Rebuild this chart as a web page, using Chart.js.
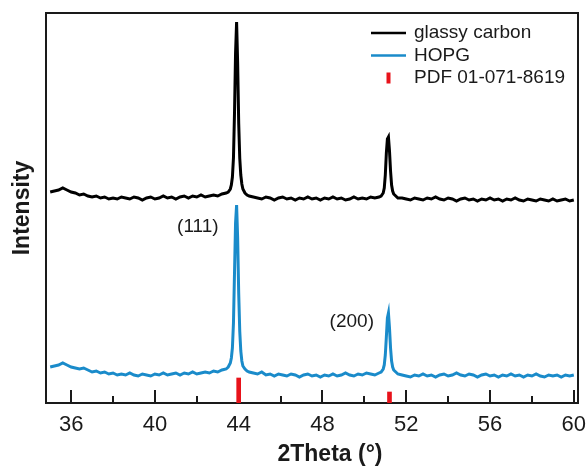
<!DOCTYPE html>
<html>
<head>
<meta charset="utf-8">
<script src="https://cdn.jsdelivr.net/npm/chart.js@4.4.1/dist/chart.umd.min.js"></script>
<style>
  html, body { margin: 0; padding: 0; background: #fff; }
</style>
</head>
<body>
<canvas id="xrdChart" width="586" height="466"></canvas>
<script>
// 2theta grid (deg) - coarse on the background, finer across the two peaks
const twoTheta = [
    35.0, 35.2, 35.4, 35.6, 35.8, 36.0, 36.2, 36.4, 36.6, 36.8, 37.0, 37.2, 37.4, 37.6, 37.8, 38.0, 38.2, 38.4, 38.6, 38.8, 39.0, 39.2, 39.4, 39.6, 39.8, 40.0, 40.2, 40.4, 40.6, 40.8, 41.0, 41.2, 41.4, 41.6, 41.8, 42.0, 42.2, 42.4, 42.6, 42.8, 43.0, 43.2, 43.4,
    43.5, 43.6, 43.65, 43.7, 43.75, 43.8, 43.85, 43.9, 43.95, 44.0, 44.05, 44.1, 44.15, 44.2, 44.3, 44.4, 44.5,
    44.7, 44.9, 45.1, 45.3, 45.5, 45.7, 45.9, 46.1, 46.3, 46.5, 46.7, 46.9, 47.1, 47.3, 47.5, 47.7, 47.9, 48.1, 48.3, 48.5, 48.7, 48.9, 49.1, 49.3, 49.5, 49.7, 49.9, 50.1, 50.3, 50.5, 50.7,
    50.8, 50.9, 50.95, 51.0, 51.05, 51.1, 51.15, 51.2, 51.25, 51.3, 51.35, 51.4, 51.5, 51.6,
    51.8, 52.0, 52.2, 52.4, 52.6, 52.8, 53.0, 53.2, 53.4, 53.6, 53.8, 54.0, 54.2, 54.4, 54.6, 54.8, 55.0, 55.2, 55.4, 55.6, 55.8, 56.0, 56.2, 56.4, 56.6, 56.8, 57.0, 57.2, 57.4, 57.6, 57.8, 58.0, 58.2, 58.4, 58.6, 58.8, 59.0, 59.2, 59.4, 59.6, 59.8, 60.0
];

// intensities (a.u., curves offset as in the figure)
const glassyCarbon = [
    211, 212, 213, 215, 213, 211, 210, 208, 209, 207, 206, 207, 205, 206, 204, 205, 204, 206, 205, 204, 206, 205, 203, 205, 206, 204, 205, 207, 205, 206, 204, 206, 207, 205, 207, 206, 208, 206, 207, 208, 207, 209, 210,
    211, 214, 218, 226, 245, 290, 350, 381, 340, 280, 245, 228, 219, 214, 210, 208, 207,
    206, 205, 204, 206, 205, 203, 205, 206, 204, 205, 203, 205, 204, 206, 204, 205, 203, 205, 204, 206, 204, 205, 203, 204, 206, 204, 205, 204, 206, 205, 206,
    207, 210, 215, 228, 250, 264, 266, 252, 232, 218, 212, 209, 207, 205,
    205, 204, 203, 205, 204, 203, 205, 204, 206, 204, 203, 205, 204, 202, 204, 205, 203, 204, 202, 204, 203, 205, 203, 204, 202, 204, 203, 205, 203, 202, 204, 203, 202, 204, 203, 202, 204, 202, 203, 204, 202, 203
];

const hopg = [
    36, 37, 38, 40, 38, 36, 35, 34, 35, 33, 31, 32, 30, 31, 29, 30, 28, 29, 28, 30, 28, 27, 29, 28, 27, 29, 28, 30, 28, 29, 30, 28, 30, 29, 31, 29, 30, 31, 30, 32, 31, 33, 34,
    36, 40, 45, 55, 80, 130, 180, 198, 165, 110, 72, 52, 42, 37, 34, 32, 31,
    30, 29, 31, 28, 29, 27, 29, 28, 27, 29, 28, 26, 28, 29, 27, 28, 26, 28, 27, 29, 27, 28, 30, 28, 27, 29, 28, 30, 29, 28, 30,
    31, 34, 38, 48, 66, 85, 90, 75, 55, 42, 36, 33, 31, 29,
    28, 27, 26, 28, 27, 29, 27, 28, 26, 28, 29, 27, 28, 30, 28, 27, 29, 28, 26, 28, 29, 27, 28, 26, 28, 27, 29, 27, 28, 26, 28, 27, 29, 27, 26, 28, 27, 28, 26, 28, 27, 28
];

// reference pattern PDF 01-071-8619
const pdfAngles = [44.0, 51.2];
const pdfIntensity = [25, 11];

const seriesNames = ['glassy carbon', 'HOPG', 'PDF 01-071-8619'];
const majorTicks = [36, 40, 44, 48, 52, 56, 60];
const minorTicks = [38, 42, 46, 50, 54, 58];
const peakLabels = ['(111)', '(200)'];

const FONT = '"Liberation Sans", Arial, sans-serif';
const INK = '#1a1a1a';

// frame + inward ticks go under the data, texts and legend on top
const decorPlugin = {
    id: 'decor',
    beforeDatasetsDraw(chart) {
        const { ctx, chartArea: a, scales: { x } } = chart;
        ctx.save();
        ctx.strokeStyle = INK;
        ctx.lineWidth = 2;
        ctx.strokeRect(a.left, a.top, a.right - a.left, a.bottom - a.top);

        ctx.beginPath();
        majorTicks.forEach(v => {
            const px = Math.round(x.getPixelForValue(v));
            ctx.moveTo(px, a.bottom);
            ctx.lineTo(px, a.bottom - 13);
        });
        minorTicks.forEach(v => {
            const px = Math.round(x.getPixelForValue(v));
            ctx.moveTo(px, a.bottom);
            ctx.lineTo(px, a.bottom - 7);
        });
        ctx.stroke();
        ctx.restore();
    },
    afterDatasetsDraw(chart, args, opts) {
        const { ctx, chartArea: a, scales: { x, y } } = chart;
        ctx.save();

        ctx.fillStyle = INK;
        ctx.textAlign = 'center';
        ctx.textBaseline = 'middle';
        ctx.font = '22px ' + FONT;
        majorTicks.forEach(v => ctx.fillText(String(v), x.getPixelForValue(v), a.bottom + 22));

        ctx.font = 'bold 23px ' + FONT;
        ctx.fillText('2Theta (°)', (a.left + a.right) / 2 + 18, a.bottom + 52);

        ctx.font = '19px ' + FONT;
        peakLabels.forEach((t, i) => {
            const [lx, ly] = opts.labelAt[i];
            ctx.fillText(t, x.getPixelForValue(lx), y.getPixelForValue(ly));
        });

        // legend in the top right corner of the plot
        const x0 = a.right - 207;
        ctx.textAlign = 'left';
        chart.data.datasets.forEach((ds, i) => {
            const cy = a.top + 20 + i * 22.5;
            if (ds.type === 'bar') {
                ctx.fillStyle = ds.backgroundColor;
                ctx.fillRect(x0 + 15.5, cy - 5.5, 4, 11);
            } else {
                ctx.strokeStyle = ds.borderColor;
                ctx.lineWidth = 2.5;
                ctx.beginPath();
                ctx.moveTo(x0, cy);
                ctx.lineTo(x0 + 35, cy);
                ctx.stroke();
            }
            ctx.fillStyle = INK;
            ctx.fillText(ds.label, x0 + 43, cy);
        });

        ctx.restore();
    }
};

const ctx = document.getElementById('xrdChart').getContext('2d');
const xrdChart = new Chart(ctx, {
    type: 'line',
    data: {
        datasets: [
            {
                label: seriesNames[0],
                data: twoTheta.map((t, i) => ({ x: t, y: glassyCarbon[i] })),
                borderColor: '#000000',
                borderWidth: 3,
                pointRadius: 0,
                tension: 0
            },
            {
                label: seriesNames[1],
                data: twoTheta.map((t, i) => ({ x: t, y: hopg[i] })),
                borderColor: '#1a8bca',
                borderWidth: 3,
                pointRadius: 0,
                tension: 0
            },
            {
                type: 'bar',
                label: seriesNames[2],
                data: pdfAngles.map((t, i) => ({ x: t, y: pdfIntensity[i] })),
                backgroundColor: '#e8121a',
                borderWidth: 0,
                barThickness: 4
            }
        ]
    },
    options: {
        responsive: false,
        animation: false,
        layout: { padding: { left: 9.2, top: 13, right: 8, bottom: 63 } },
        plugins: {
            legend: { display: false },
            tooltip: { enabled: false },
            decor: { labelAt: [[42.05, 176], [49.4, 81]] }
        },
        scales: {
            x: {
                type: 'linear',
                min: 34.8,
                max: 60.2,
                offset: false,
                grid: { display: false, drawTicks: false, offset: false },
                border: { display: false },
                ticks: { display: false }
            },
            y: {
                min: 0,
                max: 390,
                grid: { display: false, drawTicks: false },
                border: { display: false },
                ticks: { display: false },
                title: {
                    display: true,
                    text: 'Intensity',
                    color: INK,
                    font: { family: FONT, size: 23, weight: 'bold' },
                    padding: { top: 0, bottom: 9.2 }
                }
            }
        }
    },
    plugins: [decorPlugin]
});
</script>
</body>
</html>
